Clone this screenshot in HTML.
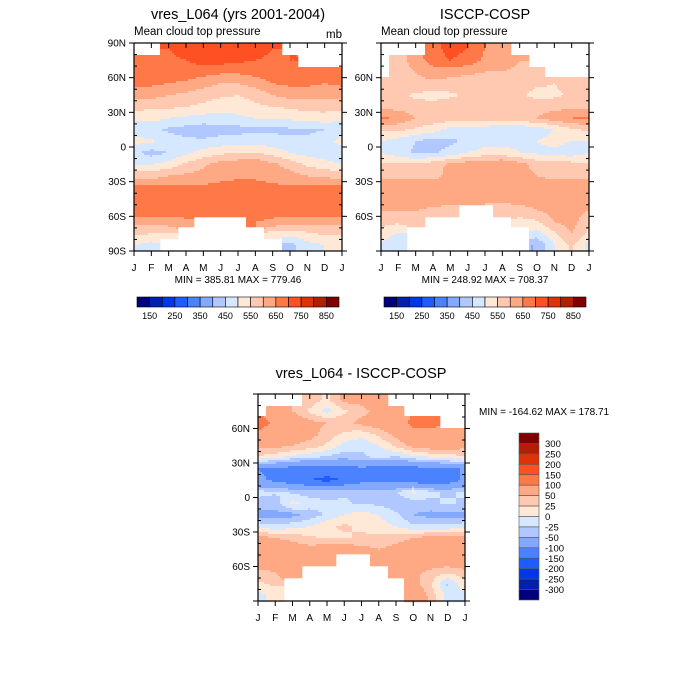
<!DOCTYPE html>
<html><head><meta charset="utf-8"><style>
body{margin:0;background:#fff;}
svg{display:block;font-family:"Liberation Sans",sans-serif;}
</style></head><body>
<svg id="s" width="700" height="700" viewBox="0 0 700 700">
<text x="238" y="19" font-size="14.5" text-anchor="middle">vres_L064 (yrs 2001-2004)</text>
<text x="134" y="35" font-size="11.5">Mean cloud top pressure</text>
<text x="342" y="38" font-size="11.5" text-anchor="end">mb</text>
<text x="485" y="19" font-size="14.5" text-anchor="middle">ISCCP-COSP</text>
<text x="381" y="35" font-size="11.5">Mean cloud top pressure</text>
<text x="238" y="283" font-size="10" text-anchor="middle">MIN = 385.81 MAX = 779.46</text>
<text x="485" y="283" font-size="10" text-anchor="middle">MIN = 248.92 MAX = 708.37</text>
<text x="361" y="378" font-size="14.5" text-anchor="middle">vres_L064 - ISCCP-COSP</text>
<text x="479" y="415" font-size="10">MIN = -164.62 MAX = 178.71</text>
</svg>
<script>
const months=["J","F","M","A","M","J","J","A","S","O","N","D","J"];
const colors=["#00007f","#0020b0","#0038e8","#1e5cff","#4a82ff","#82a8ff","#b0c8ff","#d6e8ff","#ffe8d6","#ffc8b0","#ffa884","#ff7848","#ff5024","#e03208","#b02000","#800000"];
const levelsMean=[150,200,250,300,350,400,450,500,550,600,650,700,750,800,850];
const levelsDiff=[-300,-250,-200,-150,-100,-50,-25,0,25,50,100,150,200,250,300];
const N=null;
const model=[
[N,N,700,720,740,745,735,720,700,N,N,N,N],
[660,670,690,700,720,720,710,700,690,700,N,N,N],
[670,670,680,680,670,660,660,670,680,690,680,660,650],
[660,660,650,640,620,600,600,620,650,660,660,650,660],
[620,620,600,590,570,560,550,570,600,620,620,620,620],
[570,560,560,550,540,520,520,540,550,560,570,570,570],
[510,520,500,490,480,480,490,500,500,510,520,530,510],
[470,460,440,430,420,430,430,440,440,440,440,450,470],
[520,510,480,460,460,470,480,480,470,460,460,480,520],
[460,430,450,490,520,540,550,550,530,500,480,470,460],
[500,500,520,560,590,620,630,640,610,580,540,520,500],
[580,580,600,610,620,640,640,640,630,620,600,590,580],
[660,660,660,660,660,660,670,670,660,660,660,660,660],
[670,670,670,670,670,670,670,670,670,670,670,670,670],
[680,680,670,670,660,660,670,670,670,680,700,690,680],
[620,620,630,640,N,N,N,650,640,620,620,620,620],
[560,550,540,N,N,N,N,N,530,520,540,560,560],
[500,480,N,N,N,N,N,N,N,430,480,500,500]];
const obs=[
[N,N,N,680,720,700,650,620,N,N,N,N,N],
[N,580,620,680,700,680,640,620,600,N,N,N,N],
[N,580,600,620,620,610,600,600,590,580,N,N,N],
[580,580,590,590,580,570,580,590,580,560,550,570,580],
[570,560,540,530,540,560,580,580,560,530,540,560,570],
[580,580,570,570,580,590,600,600,590,580,580,590,580],
[660,640,600,580,580,580,590,590,590,600,630,650,660],
[560,560,540,520,480,470,460,450,450,470,500,540,560],
[500,480,450,430,440,460,480,480,490,500,520,500,500],
[500,470,440,440,470,500,520,520,500,490,480,470,500],
[560,560,560,580,610,630,640,650,620,580,570,570,560],
[590,590,590,590,610,630,640,640,620,600,590,590,590],
[620,620,620,620,610,610,620,630,630,620,620,620,620],
[620,620,630,620,610,600,600,610,620,620,620,620,620],
[600,600,600,590,590,N,N,580,580,600,620,620,600],
[560,560,570,N,N,N,N,N,530,540,600,620,560],
[540,490,N,N,N,N,N,N,N,480,540,600,540],
[480,450,N,N,N,N,N,N,N,400,500,560,480]];
const diff=[
[N,N,N,40,20,60,60,80,N,N,N,N,N],
[N,80,50,20,-10,20,40,60,70,N,N,N,N],
[120,90,80,60,50,40,60,70,80,110,110,N,N],
[90,80,70,60,40,20,10,30,60,90,90,80,90],
[60,60,50,40,20,-10,-20,0,30,60,70,70,60],
[20,10,-10,-20,-30,-40,-30,-20,-30,-10,0,10,20],
[-100,-110,-120,-130,-130,-120,-110,-120,-130,-120,-110,-100,-100],
[-90,-110,-130,-150,-160,-150,-120,-110,-120,-130,-140,-130,-90],
[-20,-20,-30,-40,-40,-30,-30,-40,-30,10,-20,-30,-20],
[-30,-40,10,-10,-20,-20,-30,-30,-40,-40,-30,-20,-30],
[-60,-60,-60,-40,-20,0,10,0,-20,-50,-60,-60,-60],
[-10,-20,-10,0,20,30,20,10,0,-20,-20,-20,-10],
[60,50,40,30,20,20,30,30,40,50,60,60,60],
[80,80,70,60,70,70,60,50,60,70,80,80,80],
[80,70,60,50,60,N,N,90,80,80,80,70,80],
[40,50,90,N,N,N,N,N,70,60,40,30,40],
[20,30,N,N,N,N,N,N,N,60,30,-30,20],
[-10,10,N,N,N,N,N,N,N,90,40,-10,-10]];
const meanBarLabels=["150","250","350","450","550","650","750","850"];
const diffBarLabels=["300","250","200","150","100","50","25","0","-25","-50","-100","-150","-200","-250","-300"];
const latTicks1=[90,60,30,0,-30,-60,-90];
const latTicks2=[60,30,0,-30,-60];

const svg=document.getElementById('s');
const NS='http://www.w3.org/2000/svg';
function mk(t,a,p){const e=document.createElementNS(NS,t);for(const k in a)e.setAttribute(k,a[k]);(p||svg).appendChild(e);return e;}
function latLabel(v){return v===0?"0":Math.abs(v)+(v>0?"N":"S");}
function classify(v,lv){let i=0;while(i<lv.length&&v>=lv[i])i++;return i;}

function panel(name,x0,y0,w,h,data,lv,ticks){
  const ys=lat=>y0+(90-lat)/180*h;
  const g=mk('g',{});
  
  
  const step=2;
  const nr=data.length,nc=data[0].length;
  for(let py=0;py<h;py+=step){
    const lat=90-(py+step/2)/h*180;
    let fr=(85-lat)/10;fr=Math.max(0,Math.min(nr-1,fr));
    const r0=Math.min(nr-2,Math.floor(fr)),r1=r0+1,ty=fr-r0;
    let run=null;
    const flush=(endX)=>{if(run&&run.c!==null){mk('rect',{x:x0+run.s,y:y0+py,width:endX-run.s+0.3,height:step+0.3,fill:colors[run.c]},g);}};
    for(let px=0;px<w;px+=step){
      let fc=(px+step/2)/w*12;
      const c0=Math.min(nc-2,Math.floor(fc)),c1=c0+1,tx=fc-c0;
      const a=data[r0][c0],b=data[r0][c1],c=data[r1][c0],d=data[r1][c1];
      const near=data[Math.round(fr)][Math.round(fc)];
      let ci=null;
      if(near!==null){
        const vals=[[a,(1-tx)*(1-ty)],[b,tx*(1-ty)],[c,(1-tx)*ty],[d,tx*ty]];
        let s=0,wsum=0;vals.forEach(([v,wt])=>{if(v!==null){s+=v*wt;wsum+=wt;}});
        ci=wsum>0?classify(s/wsum,lv):classify(near,lv);
      }
      if(!run||run.c!==ci){flush(px);run={s:px,c:ci};}
    }
    flush(w);
  }
  const fr=mk('rect',{x:x0,y:y0,width:w,height:h,fill:'none',stroke:'#000','stroke-width':1.2});
  
  
  for(let m=0;m<=12;m++){
    const x=x0+m/12*w;
    mk('line',{x1:x,y1:y0+h,x2:x,y2:y0+h+5,stroke:'#000'});
    mk('line',{x1:x,y1:y0,x2:x,y2:y0+5,stroke:'#000'});
    const t=mk('text',{x:x,y:y0+h+20,'font-size':10,'text-anchor':'middle'});
    
    
    t.textContent=months[m];
  }
  for(let lat=-90;lat<=90;lat+=10){
    const y=ys(lat);const major=lat%30===0;
    if(major){mk('line',{x1:x0-5,y1:y,x2:x0,y2:y,stroke:'#000'});mk('line',{x1:x0+w,y1:y,x2:x0+w+5,y2:y,stroke:'#000'});}
    else{mk('line',{x1:x0,y1:y,x2:x0+3,y2:y,stroke:'#000'});mk('line',{x1:x0+w-3,y1:y,x2:x0+w,y2:y,stroke:'#000'});}
  }
  ticks.forEach(lat=>{
    const t=mk('text',{x:x0-8,y:ys(lat)+3.5,'font-size':10,'text-anchor':'end'});
    
    
    t.textContent=latLabel(lat);
  });
}
panel('panel1',134,43,208,208,model,levelsMean,latTicks1);
panel('panel2',381,43,208,208,obs,levelsMean,latTicks2);
panel('diff',258,394,207,207,diff,levelsDiff,latTicks2);

function hbar(name,x0,y0,w,h){
  const bw=w/16;
  for(let i=0;i<16;i++){
    const r=mk('rect',{x:x0+i*bw,y:y0,width:bw,height:h,fill:colors[i],stroke:'#000','stroke-width':0.6});
    
    
  }
  meanBarLabels.forEach((l,k)=>{
    const t=mk('text',{x:x0+(1+2*k)*bw,y:y0+h+12,'font-size':9,'text-anchor':'middle'});
    
    
    t.textContent=l;
  });
}
hbar('colorbar1',137,297,202,10);
hbar('colorbar2',384,297,202,10);
(function(){
  const x0=519,y0=433,w=20,h=167,bh=h/16;
  for(let i=0;i<16;i++){
    const r=mk('rect',{x:x0,y:y0+i*bh,width:w,height:bh,fill:colors[15-i],stroke:'#555','stroke-width':0.6});
    
    
  }
  diffBarLabels.forEach((l,k)=>{
    const t=mk('text',{x:x0+w+6,y:y0+(k+1)*bh+3.5,'font-size':9.5});
    
    
    t.textContent=l;
  });
})();
</script>
</body></html>
